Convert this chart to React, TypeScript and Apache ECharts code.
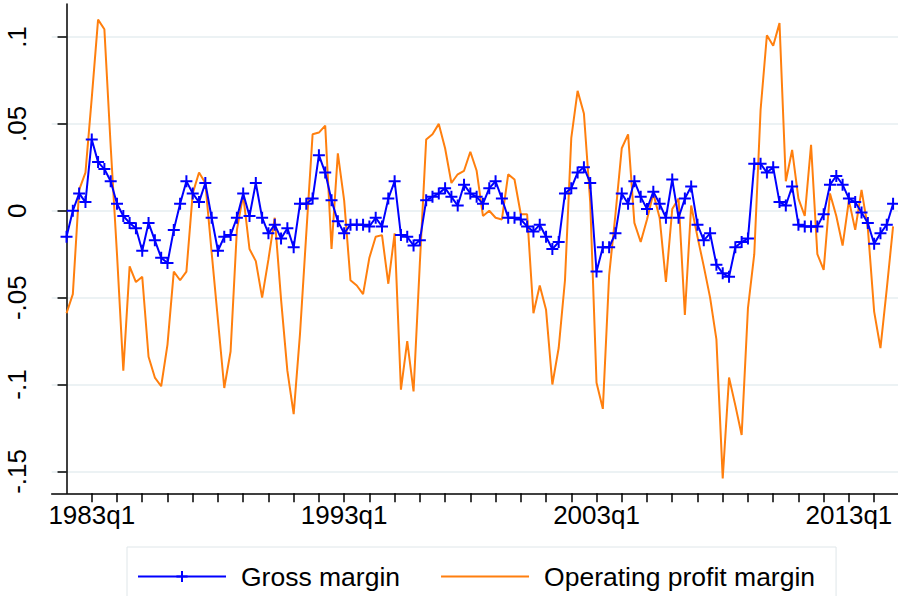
import React, { useEffect, useRef } from "react";
import * as echarts from "echarts";

// Quarterly categories 1982q1 .. 2014q4
const firstYear = 1982;
const lastYear = 2014;
const quarters: string[] = [];
for (let y = firstYear; y <= lastYear; y++) {
  for (let q = 1; q <= 4; q++) quarters.push(`${y}q${q}`);
}

const grossMargin = [
  -0.015, 0.0, 0.01, 0.005, 0.041, 0.028, 0.024, 0.017, 0.004, -0.003,
  -0.007, -0.01, -0.023, -0.007, -0.017, -0.027, -0.03, -0.011, 0.004, 0.017,
  0.01, 0.005, 0.016, -0.004, -0.023, -0.015, -0.014, -0.004, 0.01, -0.003,
  0.016, -0.004, -0.013, -0.008, -0.016, -0.01, -0.021, 0.004, 0.004, 0.007,
  0.032, 0.022, 0.006, -0.006, -0.013, -0.008, -0.008, -0.008, -0.009, -0.004,
  -0.009, 0.007, 0.017, -0.014, -0.015, -0.02, -0.017, 0.006, 0.008, 0.01,
  0.013, 0.008, 0.003, 0.015, 0.01, 0.008, 0.004, 0.013, 0.017, 0.007,
  -0.004, -0.004, -0.005, -0.009, -0.012, -0.008, -0.015, -0.022, -0.018, 0.01,
  0.013, 0.022, 0.025, 0.016, -0.035, -0.021, -0.021, -0.013, 0.01, 0.004,
  0.017, 0.008, 0.001, 0.011, 0.004, -0.004, 0.018, -0.004, 0.007, 0.014,
  -0.008, -0.017, -0.013, -0.031, -0.036, -0.038, -0.021, -0.018, -0.016, 0.027,
  0.027, 0.022, 0.025, 0.005, 0.003, 0.014, -0.008, -0.009, -0.009, -0.009,
  -0.002, 0.015, 0.02, 0.015, 0.007, 0.005, -0.001, -0.007, -0.019, -0.013,
  -0.008, 0.004,
];

const operatingMargin = [
  -0.059, -0.048, 0.012, 0.022, 0.065, 0.11, 0.1045, 0.037, -0.025, -0.092,
  -0.032, -0.041, -0.038, -0.084, -0.096, -0.101, -0.077, -0.035, -0.04, -0.035,
  0.01, 0.022, 0.016, -0.024, -0.063, -0.102, -0.081, -0.011, 0.009, -0.022,
  -0.029, -0.05, -0.028, -0.004, -0.051, -0.092, -0.117, -0.071, -0.013, 0.044,
  0.045, 0.049, -0.022, 0.033, 0.006, -0.04, -0.043, -0.048, -0.027, -0.015,
  -0.014, -0.042, -0.013, -0.103, -0.075, -0.104, -0.03, 0.041, 0.044, 0.05,
  0.036, 0.016, 0.021, 0.023, 0.034, 0.023, -0.003, 0.0, -0.004, -0.005,
  0.021, 0.018, -0.002, -0.002, -0.059, -0.043, -0.057, -0.1, -0.079, -0.04,
  0.042, 0.069, 0.056, 0.005, -0.099, -0.114, -0.037, -0.002, 0.036, 0.044,
  -0.007, -0.018, -0.005, 0.01, -0.004, -0.041, 0.001, 0.007, -0.06, 0.003,
  -0.015, -0.032, -0.05, -0.074, -0.154, -0.096, -0.112, -0.129, -0.056, -0.025,
  0.058, 0.101, 0.095, 0.108, 0.017, 0.035, 0.007, -0.003, 0.038, -0.025,
  -0.034, 0.01, -0.003, -0.02, 0.006, -0.011, 0.012, -0.01, -0.058, -0.079,
  -0.045, -0.009,
];

const xTickQuarters = [
  "1983q1", "1984q1", "1985q1", "1986q1", "1987q1", "1988q1", "1989q1", "1990q1",
  "1991q1", "1992q1", "1993q1", "1994q1", "1995q1", "1996q1", "1997q1", "1998q1",
  "1999q1", "2000q1", "2001q1", "2002q1", "2003q1", "2004q1", "2005q1", "2006q1",
  "2007q1", "2008q1", "2009q1", "2010q1", "2011q1", "2012q1", "2013q1", "2014q1",
];
const xLabelQuarters = ["1983q1", "1993q1", "2003q1", "2013q1"];
const yTicks = [-0.15, -0.1, -0.05, 0, 0.05, 0.1];

const FONT = "Liberation Sans, Arial, sans-serif";

export default function App() {
  const ref = useRef<HTMLDivElement>(null);
  useEffect(() => {
    if (!ref.current) return;
    const chart = echarts.init(ref.current, undefined, { renderer: "svg" });
    const xTickVals = xTickQuarters.map((q) => quarters.indexOf(q));
    const xLabelVals = xLabelQuarters.map((q) => quarters.indexOf(q));
    const plus = "path://M5,0 L5,10 M0,5 L10,5";
    chart.setOption({
      animation: false,
      backgroundColor: "#ffffff",
      textStyle: { fontFamily: FONT },
      grid: { left: 51.7, top: 4, right: 0, bottom: 102.7, containLabel: false },
      legend: {
        data: [
          { name: "Gross margin" },
          { name: "Operating profit margin", itemStyle: { opacity: 0 } },
        ],
        left: 127,
        top: 547,
        orient: "horizontal",
        itemWidth: 88,
        itemHeight: 14,
        itemGap: 40,
        padding: [16, 21, 20, 10],
        borderColor: "#dfe6e9",
        borderWidth: 1,
        textStyle: { fontSize: 26.5, color: "#000", fontFamily: FONT, padding: [0, 0, 0, 10] },
      },
      xAxis: {
        type: "value",
        min: -2.35,
        max: 131.78,
        axisLine: { show: true, onZero: false, lineStyle: { color: "#000", width: 1.5 } },
        axisTick: { show: true, length: 9, customValues: xTickVals, lineStyle: { color: "#000", width: 1.5 } },
        axisLabel: {
          show: true,
          customValues: xLabelVals,
          fontSize: 26,
          color: "#000",
          fontFamily: FONT,
          margin: 9,
          formatter: (v: number) => quarters[Math.round(v)] ?? "",
        },
        splitLine: { show: false },
      },
      yAxis: {
        type: "value",
        min: -0.1626,
        max: 0.119,
        axisLine: { show: true, lineStyle: { color: "#000", width: 1.5 } },
        axisTick: { show: true, length: 9, customValues: yTicks, lineStyle: { color: "#000", width: 1.5 } },
        axisLabel: {
          show: true,
          customValues: yTicks,
          rotate: 90,
          fontSize: 26,
          color: "#000",
          fontFamily: FONT,
          margin: 22,
          formatter: (v: number) => {
            const s = String(+Number(v).toFixed(3));
            return s.replace(/^(-?)0\./, "$1.");
          },
        },
        splitLine: { show: true, lineStyle: { color: "#e6eef1", width: 1.5 } },
      },
      series: [
        {
          name: "Gross margin",
          type: "line",
          data: grossMargin.map((v, i) => [i, v]),
          symbol: plus,
          symbolSize: 12,
          showSymbol: true,
          lineStyle: { color: "#0000ff", width: 2 },
          itemStyle: { color: "rgba(0,0,0,0)", borderColor: "#0000ff", borderWidth: 2 },
          z: 3,
        },
        {
          name: "Operating profit margin",
          type: "line",
          data: operatingMargin.map((v, i) => [i, v]),
          symbol: "none",
          showSymbol: false,
          lineStyle: { color: "#ff7f0e", width: 2 },
          itemStyle: { color: "#ff7f0e" },
          z: 2,
        },
      ],
    });
    return () => chart.dispose();
  }, []);
  return (
    <div
      ref={ref}
      style={{ position: "fixed", left: 0, top: 0, width: 898, height: 596, background: "#fff" }}
    />
  );
}
